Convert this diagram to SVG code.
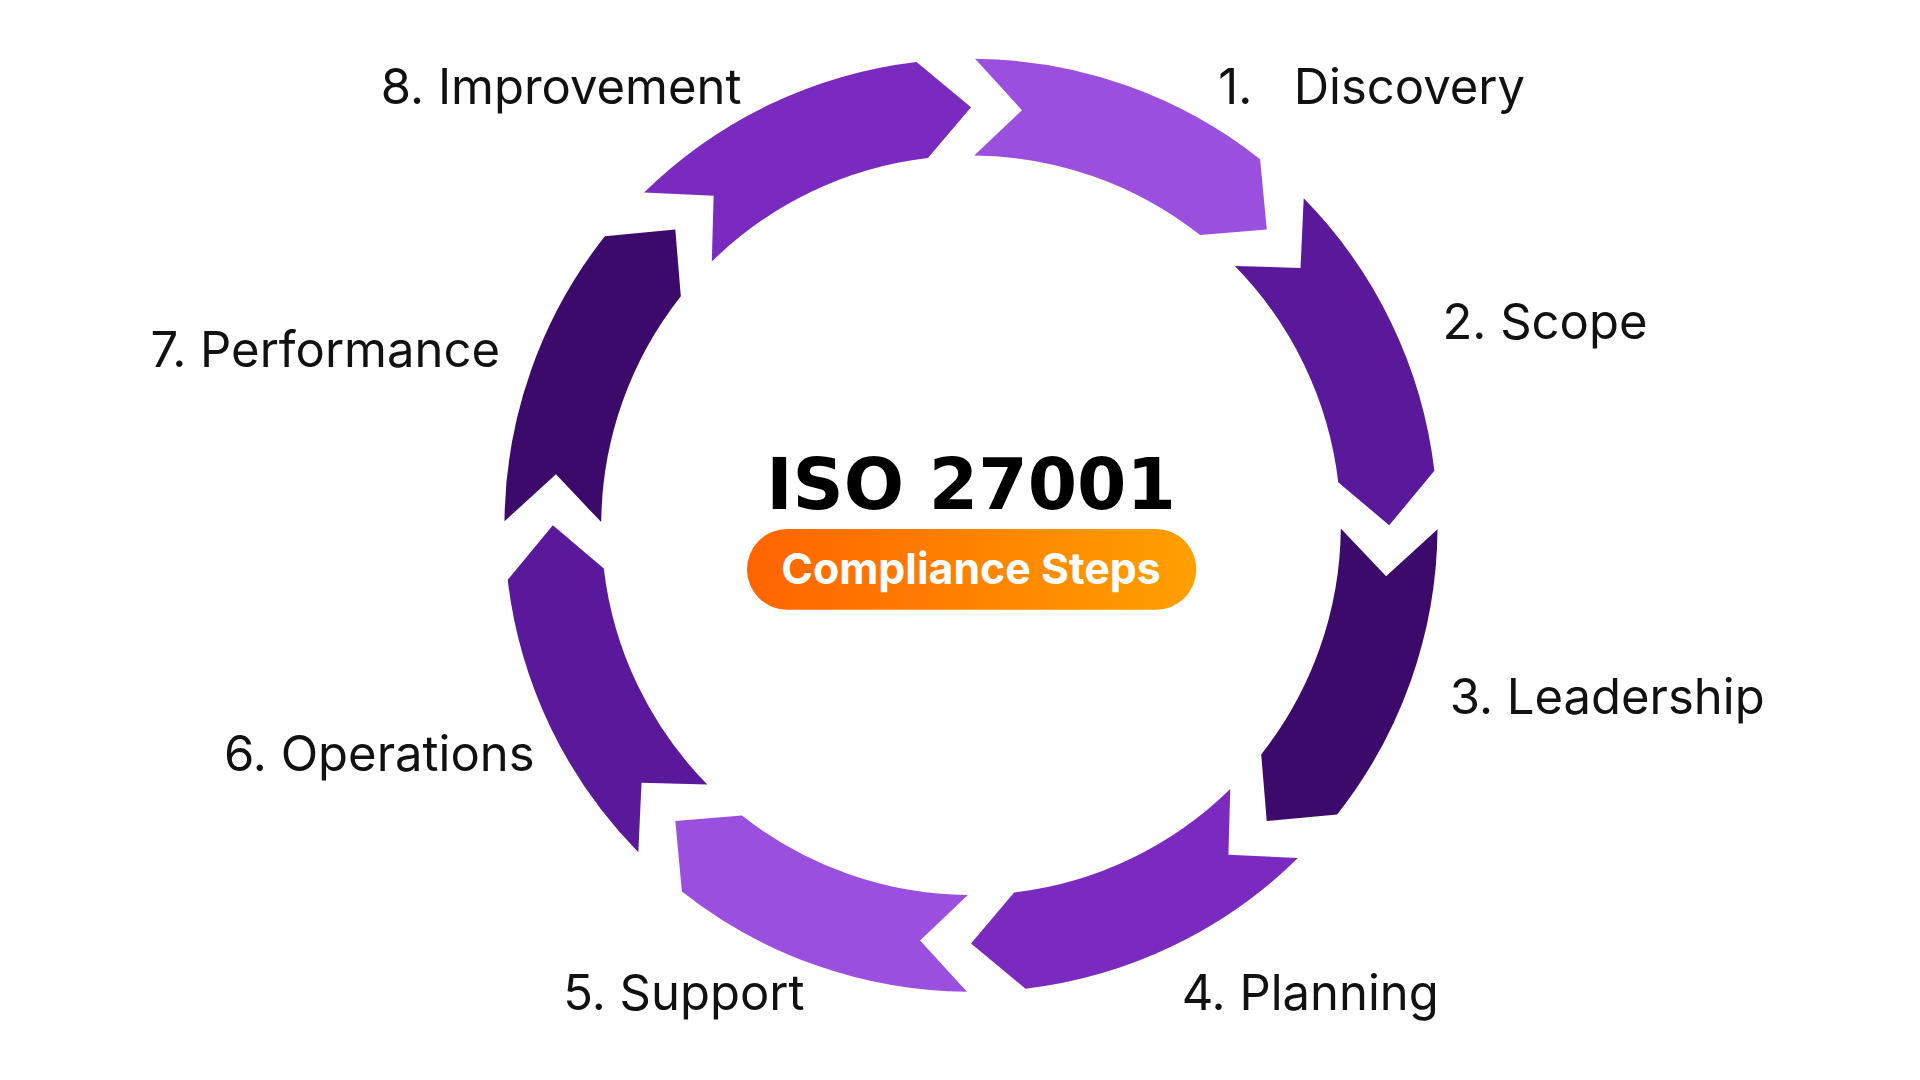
<svg xmlns="http://www.w3.org/2000/svg" width="1920" height="1080" viewBox="0 0 1920 1080">
<defs>
<linearGradient id="g" x1="0" y1="0" x2="1" y2="0"><stop offset="0" stop-color="#ff6400"/><stop offset="1" stop-color="#ffa000"/></linearGradient>
<style>
.lbl{font-family:Inter,"Open Sans",sans-serif;font-size:40px;fill:#111}
.c1{fill:#9b4fdf}.c2{fill:#5a189a}.c3{fill:#3c0a6a}.c4{fill:#7b2abf}
</style>
</defs>
<rect width="1920" height="1080" fill="#fff"/>
<g transform="scale(1.22449)">
<g id="connectors"></g>
<g id="seg1"><path class="c1" d="M796.3,48 A381,381 0 0 1 1029.1,130 L1034.5,187.5 L980.1,192 A302,302 0 0 0 795.6,127 L834.6,90 Z"/><text class="lbl" x="995" y="85" xml:space="preserve">1.   Discovery</text></g>
<g id="seg2"><path class="c2" d="M1064.7,162 A381,381 0 0 1 1171.4,384.5 L1134.5,429 L1092.9,393.8 A302,302 0 0 0 1008.4,217.3 L1062.1,218.8 Z"/><text class="lbl" x="1178" y="277">2. Scope</text></g>
<g id="seg3"><path class="c3" d="M1174,432.3 A381,381 0 0 1 1092,665.1 L1034.5,670.5 L1030,616.1 A302,302 0 0 0 1095,431.6 L1132,470.6 Z"/><text class="lbl" x="1184" y="583">3. Leadership</text></g>
<g id="seg4"><path class="c4" d="M1060,700.7 A381,381 0 0 1 837.5,807.4 L793,770.5 L828.2,728.9 A302,302 0 0 0 1004.7,644.4 L1003.2,698.1 Z"/><text class="lbl" x="965" y="825">4. Planning</text></g>
<g id="seg5"><path class="c1" d="M789.7,810 A381,381 0 0 1 556.9,728 L551.5,670.5 L605.9,666 A302,302 0 0 0 790.4,731 L751.4,768 Z"/><text class="lbl" x="460" y="825">5. Support</text></g>
<g id="seg6"><path class="c2" d="M521.3,696 A381,381 0 0 1 414.6,473.5 L451.5,429 L493.1,464.2 A302,302 0 0 0 577.6,640.7 L523.9,639.2 Z"/><text class="lbl" x="183" y="630">6. Operations</text></g>
<g id="seg7"><path class="c3" d="M412,425.7 A381,381 0 0 1 494,192.9 L551.5,187.5 L556,241.9 A302,302 0 0 0 491,426.4 L454,387.4 Z"/><text class="lbl" x="123" y="300">7. Performance</text></g>
<g id="seg8"><path class="c4" d="M526,157.3 A381,381 0 0 1 748.5,50.6 L793,87.5 L757.8,129.1 A302,302 0 0 0 581.3,213.6 L582.8,159.9 Z"/><text class="lbl" x="311" y="85">8. Improvement</text></g>
<g id="center">
<text x="793" y="416" text-anchor="middle" style="font-family:'DejaVu Sans',sans-serif;font-weight:bold;font-size:58px;fill:#000">ISO 27001</text>
<rect x="610" y="432" width="367" height="66" rx="33" fill="url(#g)"/>
<text x="793" y="477" text-anchor="middle" style="font-family:Inter,'Open Sans',sans-serif;font-weight:bold;font-size:35px;fill:#fff">Compliance Steps</text>
</g>
</g>
</svg>
